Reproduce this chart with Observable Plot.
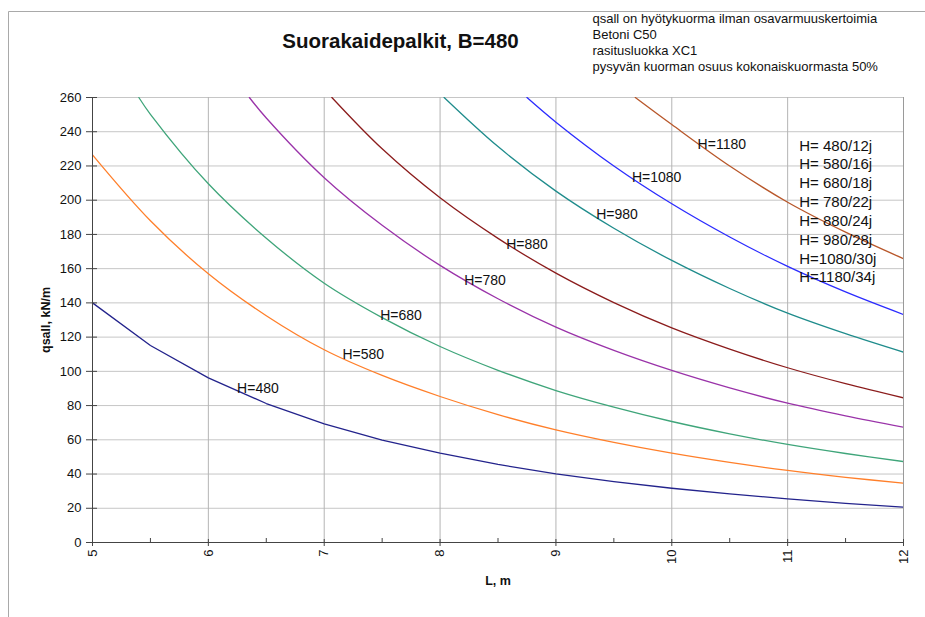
<!DOCTYPE html>
<html>
<head>
<meta charset="utf-8">
<script src="https://cdn.jsdelivr.net/npm/d3@7"></script>
<script src="https://cdn.jsdelivr.net/npm/@observablehq/plot@0.6"></script>
<style>
  html, body { margin: 0; padding: 0; background: #fff; }
  #chart svg { display: block; }
</style>
</head>
<body>
<div id="chart"></div>
<script>
// ---- data ----
const seriesNames = ["H=480", "H=580", "H=680", "H=780", "H=880", "H=980", "H=1080", "H=1180"];
const seriesColors = ["#23238c", "#ff7f2a", "#3fa57a", "#9a33a9", "#8b1c1c", "#1f8c8c", "#2b2bff", "#b8572a"];

const L480 = [5, 5.5, 6, 6.5, 7, 7.5, 8, 8.5, 9, 9.5, 10, 10.5, 11, 11.5, 12];
const q480 = [140, 115.1, 96.2, 81.2, 69.3, 59.8, 52.2, 45.6, 40.1, 35.6, 31.7, 28.4, 25.5, 22.9, 20.6];

const L580 = [5, 5.5, 6, 6.5, 7, 7.5, 8, 8.5, 9, 9.5, 10, 10.5, 11, 11.5, 12];
const q580 = [226.5, 188, 157, 132.5, 112.6, 97.6, 85.3, 74.7, 65.8, 58.5, 52.2, 46.8, 42.1, 38.1, 34.7];

const L680 = [5.4, 5.5, 6, 6.5, 7, 7.5, 8, 8.5, 9, 9.5, 10, 10.5, 11, 11.5, 12];
const q680 = [260, 250.2, 209.6, 177.8, 151.5, 131.4, 114.5, 100.6, 88.8, 79.1, 70.7, 63.5, 57.3, 52, 47.3];

const L780 = [6.354, 6.5, 7, 7.5, 8, 8.5, 9, 9.5, 10, 10.5, 11, 11.5, 12];
const q780 = [260, 248, 213.1, 185.3, 161.9, 142.4, 125.8, 112.2, 100.5, 90.3, 81.4, 74, 67.4];

const L880 = [7.066, 7.5, 8, 8.5, 9, 9.5, 10, 10.5, 11, 11.5, 12];
const q880 = [260, 230, 201.4, 177.7, 157.4, 140.2, 125.4, 113, 102.1, 92.8, 84.5];

const L980 = [8.035, 8.5, 9, 9.5, 10, 10.5, 11, 11.5, 12];
const q980 = [260, 231.3, 205.3, 183.6, 164.8, 148.4, 134, 122, 111.2];

const L1080 = [8.75, 9, 9.5, 10, 10.5, 11, 11.5, 12];
const q1080 = [260, 245.6, 220, 197.9, 178.5, 161.3, 146.4, 133.2];

const L1180 = [9.685, 10, 10.5, 11, 11.5, 12];
const q1180 = [260, 244.2, 220, 198.8, 181.3, 165.8];

// in-chart curve labels (anchor = left end of text, in data units)
const labelL = [6.248, 7.157, 7.483, 8.208, 8.571, 9.348, 9.656, 10.223];
const labelQ = [90.0, 109.8, 132.6, 153.1, 173.9, 191.5, 213.4, 232.6];

const legendLines = ["H= 480/12j", "H= 580/16j", "H= 680/18j", "H= 780/22j", "H= 880/24j", "H= 980/28j", "H=1080/30j", "H=1180/34j"];
const legendAnchor = {L: 11.1, q: 194};

const titleText = "Suorakaidepalkit, B=480";
const noteLines = [
  "qsall on hyötykuorma ilman osavarmuuskertoimia",
  "Betoni C50",
  "rasitusluokka XC1",
  "pysyvän kuorman osuus kokonaiskuormasta 50%"
];

const xTicks = [5, 6, 7, 8, 9, 10, 11, 12];
const xMinorTicks = [5.5, 6.5, 7.5, 8.5, 9.5, 10.5, 11.5];
const yTicks = [0, 20, 40, 60, 80, 100, 120, 140, 160, 180, 200, 220, 240, 260];

// ---- build tables ----
const Ls = [L480, L580, L680, L780, L880, L980, L1080, L1180];
const qs = [q480, q580, q680, q780, q880, q980, q1080, q1180];
const rows = [];
seriesNames.forEach((name, i) => {
  Ls[i].forEach((L, j) => rows.push({H: name, L, q: qs[i][j]}));
});
const firstRows = rows.filter(d => d.H === seriesNames[0]);
const otherRows = rows.filter(d => d.H !== seriesNames[0]);
const labelRows = seriesNames.map((name, i) => ({H: name, L: labelL[i], q: labelQ[i]}));

// decorative page frame (grey line top and left, like the sheet border)
const pageFrame = () => (index, scales, values, dims) => {
  return d3.create("svg:path")
    .attr("d", `M8.5,${dims.height}V11.5H${dims.width}`)
    .attr("fill", "none")
    .attr("stroke", "#a9a9a9")
    .attr("stroke-width", 1)
    .node();
};

const font = "'Liberation Sans', Arial, Helvetica, sans-serif";

const chart = Plot.plot({
  width: 925,
  height: 617,
  marginLeft: 92,
  marginRight: 22,
  marginTop: 97,
  marginBottom: 75,
  style: {fontFamily: font, fontSize: "13px", background: "#fff", color: "#111", overflow: "visible"},
  x: {domain: [5, 12]},
  y: {domain: [0, 260]},
  color: {domain: seriesNames, range: seriesColors},
  marks: [
    pageFrame(),
    Plot.gridY(yTicks, {stroke: "#c6c6c6", strokeOpacity: 1}),
    Plot.gridX(xTicks, {stroke: "#b4b4b4", strokeOpacity: 1}),
    Plot.line(firstRows, {x: "L", y: "q", z: "H", stroke: "H", strokeWidth: 1.3, clip: true}),
    Plot.line(otherRows, {x: "L", y: "q", z: "H", stroke: "H", strokeWidth: 1.3, curve: "catmull-rom", clip: true}),
    Plot.ruleX([12], {stroke: "#9a9a9a"}),
    Plot.ruleX([5], {stroke: "#444"}),
    Plot.ruleY([0], {stroke: "#444"}),
    Plot.axisY(yTicks, {tickSize: 6, tickPadding: 5, fontSize: 13, stroke: "#444", label: "qsall, kN/m", labelAnchor: "center", labelArrow: "none", labelOffset: 51}),
    Plot.axisY(yTicks, {tickSize: -5, stroke: "#444", tickFormat: () => "", label: null}),
    Plot.axisX(xTicks, {tickSize: 4, tickPadding: 3, tickRotate: -90, tickFormat: d3.format("d"), fontSize: 13, stroke: "#444", label: "L, m", labelAnchor: "center", labelArrow: "none", labelOffset: 42}),
    Plot.axisX(xTicks, {tickSize: -3, stroke: "#444", tickFormat: () => "", label: null}),
    Plot.axisX(xMinorTicks, {tickSize: -4, stroke: "#444", tickFormat: () => "", label: null}),
    Plot.text(labelRows, {x: "L", y: "q", text: "H", textAnchor: "start", fontSize: 14, fill: "#111"}),
    Plot.text([legendLines.join("\n")], {x: () => legendAnchor.L, y: () => legendAnchor.q, textAnchor: "start", lineHeight: 1.257, fontSize: 15, fill: "#111"}),
    Plot.text([titleText], {frameAnchor: "top-left", dx: 308, dy: -56, textAnchor: "middle", lineAnchor: "middle", fontSize: 20.5, fontWeight: "bold", fill: "#111"}),
    Plot.text([noteLines.join("\n")], {frameAnchor: "top-left", dx: 500, dy: -86.5, textAnchor: "start", lineAnchor: "top", lineHeight: 1.25, fontSize: 13, fill: "#111"})
  ]
});

// bold axis titles
d3.select(chart).selectAll("g[aria-label='y-axis label'] text, g[aria-label='x-axis label'] text")
  .attr("font-weight", "bold").attr("font-size", 12.5);

document.getElementById("chart").appendChild(chart);
</script>
</body>
</html>
